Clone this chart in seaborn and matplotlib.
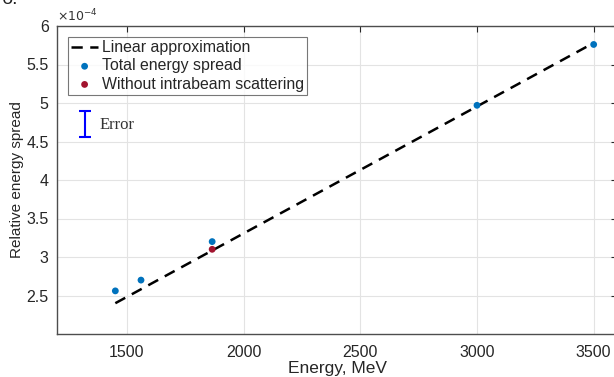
import matplotlib
matplotlib.use("Agg")
import matplotlib.pyplot as plt
import seaborn as sns
import numpy as np
import pandas as pd

# data (energy spread in units of 1e-4)
energy_total = [1450, 1560, 1865, 3000, 3500]
spread_total = [2.56, 2.70, 3.20, 4.97, 5.76]
energy_noibs = [1865]
spread_noibs = [3.10]
energy_fit = [1450, 3500]
spread_fit = [2.40, 5.78]
xticks = [1500, 2000, 2500, 3000, 3500]
yticks = [2.5, 3, 3.5, 4, 4.5, 5, 5.5, 6]

sns.set_theme(style="whitegrid")
plt.rcParams['font.family'] = ['Liberation Sans', 'DejaVu Sans']

fig = plt.figure(figsize=(6.14, 3.77), dpi=100)
W, H = 614, 377
ax = fig.add_axes([57 / W, 1 - 334 / H, (617 - 57) / W, (334 - 26) / H])

df_fit = pd.DataFrame({"E": energy_fit, "S": spread_fit})
df_tot = pd.DataFrame({"E": energy_total, "S": spread_total})
df_no = pd.DataFrame({"E": energy_noibs, "S": spread_noibs})

sns.lineplot(data=df_fit, x="E", y="S", ax=ax, color="black", lw=1.8,
             linestyle=(0, (4.5, 3)), label="Linear approximation")
sns.scatterplot(data=df_tot, x="E", y="S", ax=ax, color="#0072BD", s=24,
                edgecolor="none", label="Total energy spread", zorder=3)
sns.scatterplot(data=df_no, x="E", y="S", ax=ax, color="#A2142F", s=24,
                edgecolor="none", label="Without intrabeam scattering", zorder=3)

ax.set_xlim(1200, 3600)
ax.set_ylim(2.0, 6.0)
ax.set_xticks(xticks)
ax.set_yticks(yticks)
ax.set_yticklabels([f"{v:g}" for v in yticks])
ax.set_xticklabels([str(v) for v in xticks])
ax.tick_params(axis="both", labelsize=11.5, colors="#262626", direction="in",
               length=4, width=0.8, top=True, right=True)
ax.tick_params(axis="x", pad=8)
ax.tick_params(axis="y", pad=6)
ax.grid(True, color="#e3e3e3", lw=0.8)
for s in ax.spines.values():
    s.set_color("#4d4d4d")
    s.set_linewidth(1.0)
ax.set_xlabel("Energy, MeV", fontsize=12.5, color="#262626", labelpad=1)
ax.set_ylabel("Relative energy spread", fontsize=11, color="#262626", labelpad=2)

ax.text(0.0, 1.005, r"$\times10^{-4}$", transform=ax.transAxes, fontsize=9,
        color="#333333", ha="left", va="bottom")

leg = ax.legend(loc="upper left", bbox_to_anchor=(0.0196, 0.964), fontsize=11.4,
                frameon=True, fancybox=False, edgecolor="#555555",
                handlelength=1.7, handletextpad=0.25, borderpad=0.2,
                labelspacing=0.2, borderaxespad=0)
leg.get_frame().set_linewidth(0.8)

# error bar indicator
ax.errorbar([1320], [4.73], yerr=[[0.17], [0.17]], fmt="none", ecolor="#0000FF",
            elinewidth=1.5, capsize=4, capthick=1.5)
ax.text(1383, 4.72, "Error", fontsize=12, family=["Liberation Serif", "DejaVu Serif"],
        color="#333333", va="center")

fig.text(2 / W, 1.0, "б.", fontsize=14, va="center", ha="left", color="#222222")

fig.savefig("out.png", dpi=100)
